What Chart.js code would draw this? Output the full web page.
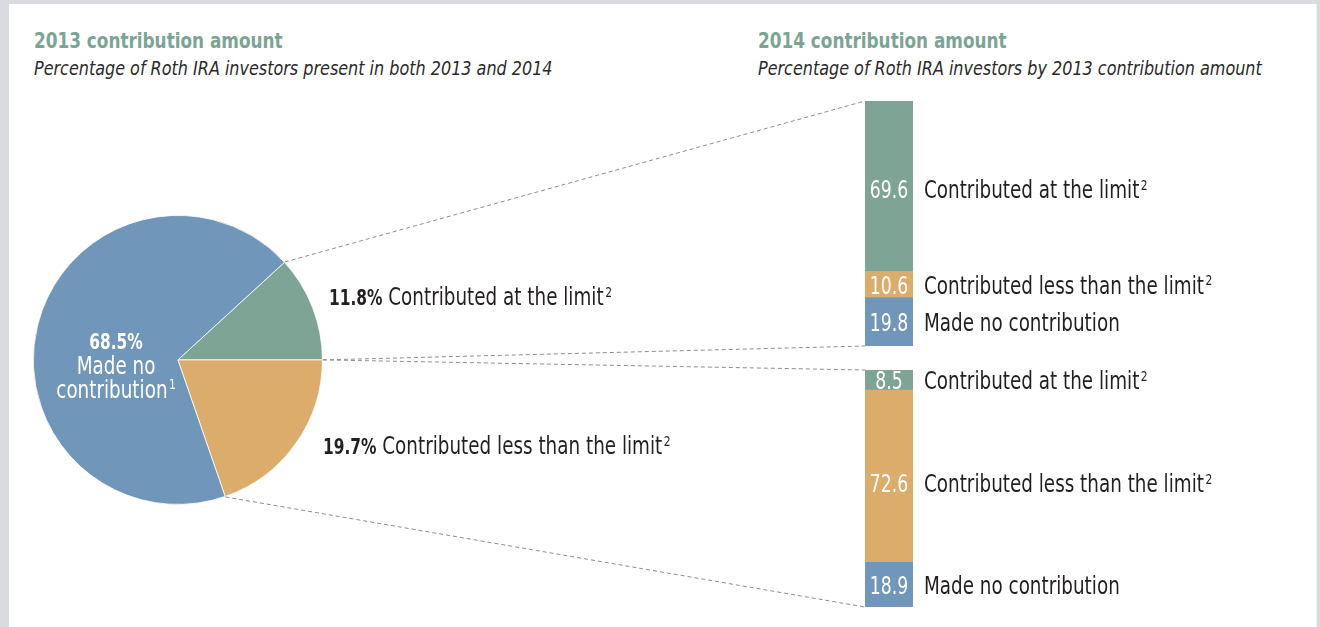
<!DOCTYPE html>
<html>
<head>
<meta charset="utf-8">
<script src="https://cdn.jsdelivr.net/npm/chart.js@4.4.1/dist/chart.umd.min.js"></script>
<style>
  html, body { margin:0; padding:0; width:1320px; height:627px; overflow:hidden; background:#d9dbe1; }
  #panel { position:absolute; left:9px; top:4px; width:1307px; height:623px; background:#ffffff; border-right:1px solid #eceef2; }
  .title { position:absolute; font-family:"DejaVu Sans Condensed","DejaVu Sans",sans-serif; font-stretch:condensed; font-weight:bold; font-size:22px; line-height:22px; color:#7ba495; white-space:nowrap; transform:scaleX(0.852); transform-origin:0 0; }
  .sub { position:absolute; font-family:"DejaVu Sans Condensed","DejaVu Sans",sans-serif; font-stretch:condensed; font-style:italic; font-size:20px; line-height:20px; color:#2a2a2a; white-space:nowrap; transform:scaleX(0.89); transform-origin:0 0; }
  canvas { position:absolute; }
</style>
</head>
<body>
<div id="panel"></div>
<div class="title" style="left:34px;top:30px;">2013 contribution amount</div>
<div class="sub" style="left:34px;top:58px;">Percentage of Roth IRA investors present in both 2013 and 2014</div>
<div class="title" style="left:758px;top:30px;">2014 contribution amount</div>
<div class="sub" style="left:758px;top:58px;">Percentage of Roth IRA investors by 2013 contribution amount</div>

<canvas id="pie" width="1320" height="627" style="left:0;top:0;"></canvas>
<canvas id="barTop" width="455" height="245" style="left:865px;top:101px;"></canvas>
<canvas id="barBottom" width="455" height="237" style="left:865px;top:370px;"></canvas>

<script>
// ---------- data ----------
const pieLabels = ['Contributed at the limit', 'Contributed less than the limit', 'Made no contribution'];
const pieValues = [11.8, 19.7, 68.5];
const pieSup = ['2', '2', '1'];

// stacked bars, listed bottom -> top
const barLabels = ['Made no contribution', 'Contributed less than the limit', 'Contributed at the limit'];
const barSup = ['', '2', '2'];
const atLimit2013Values = [19.8, 10.6, 69.6];      // 2013 contributed at the limit -> 2014
const lessThanLimit2013Values = [18.9, 72.6, 8.5]; // 2013 contributed less than the limit -> 2014

// ---------- style ----------
const FONT = '"DejaVu Sans Condensed","DejaVu Sans",sans-serif';
const SX = 0.85;          // extra horizontal condensing of label text
const C_LIMIT = '#7ea496', C_LESS = '#dcac6b', C_NONE = '#7096ba';
const TEXT = '#231f20';
const pieColors = [C_LIMIT, C_LESS, C_NONE];
const barColors = [C_NONE, C_LESS, C_LIMIT];
const BAR_W = 48;

function drawRuns(ctx, x, y, runs, align) {
  let total = 0;
  runs.forEach(r => {
    r.sx = r.sx || SX;
    ctx.font = r.font;
    r.w = ctx.measureText(r.text).width * r.sx;
    total += r.w + (r.gap || 0);
  });
  let cx = align === 'center' ? x - total / 2 : x;
  ctx.textAlign = 'left';
  ctx.textBaseline = 'alphabetic';
  runs.forEach(r => {
    cx += (r.gap || 0);
    ctx.save();
    ctx.font = r.font;
    ctx.fillStyle = r.color;
    ctx.translate(cx, y - (r.rise || 0));
    ctx.scale(r.sx, 1);
    ctx.fillText(r.text, 0, 0);
    ctx.restore();
    cx += r.w;
  });
}
function supRun(s, color) {
  return s ? [{ text: s, font: `14px ${FONT}`, color: color, rise: 8.5, gap: 1.5 }] : [];
}

function barLabelPlugin(labelDy) {
  return {
    id: 'barLabels',
    afterDatasetsDraw(chart) {
      const ctx = chart.ctx, area = chart.chartArea;
      ctx.save();
      chart.data.datasets.forEach((ds, i) => {
        const el = chart.getDatasetMeta(i).data[0];
        const mid = (el.y + el.base) / 2;
        const base = mid + 9 + labelDy[i];
        drawRuns(ctx, el.x, base, [{ text: ds.data[0].toFixed(1), font: `24px ${FONT}`, color: '#ffffff', sx: 0.8 }], 'center');
        drawRuns(ctx, area.right + 11, base,
          [{ text: ds.label, font: `24px ${FONT}`, color: TEXT }].concat(supRun(barSup[i], TEXT)));
      });
      ctx.restore();
    }
  };
}

function makeBar(id, values, labelDy) {
  const cv = document.getElementById(id);
  return new Chart(cv, {
    type: 'bar',
    data: {
      labels: ['2014'],
      datasets: values.map((v, i) => ({
        label: barLabels[i], data: [v], backgroundColor: barColors[i],
        borderWidth: 0, barPercentage: 1, categoryPercentage: 1
      }))
    },
    options: {
      responsive: false, animation: false, devicePixelRatio: 1,
      layout: { padding: { left: 0, right: cv.width - BAR_W, top: 0, bottom: 0 } },
      plugins: { legend: { display: false }, tooltip: { enabled: false } },
      scales: {
        x: { display: false, stacked: true },
        y: { display: false, stacked: true, min: 0, max: 100 }
      }
    },
    plugins: [barLabelPlugin(labelDy)]
  });
}

const barTop = makeBar('barTop', atLimit2013Values, [0, 0, 3]);
const barBottom = makeBar('barBottom', lessThanLimit2013Values, [0, 7, 0]);

function barEdges(chart) {
  const cv = chart.canvas;
  const n = chart.data.datasets.length;
  const bottomEl = chart.getDatasetMeta(0).data[0];
  const topEl = chart.getDatasetMeta(n - 1).data[0];
  const left = bottomEl.x - bottomEl.width / 2 + cv.offsetLeft;
  return { left: left, top: topEl.y + cv.offsetTop, bottom: bottomEl.base + cv.offsetTop };
}

const piePlugin = {
  id: 'pieExtras',
  afterDraw(chart) {
    const ctx = chart.ctx;
    const arcs = chart.getDatasetMeta(0).data;
    const cx = arcs[0].x, cy = arcs[0].y, R = arcs[0].outerRadius + 0.5;
    const pt = a => ({ x: cx + R * Math.cos(a), y: cy + R * Math.sin(a) });
    const p1 = pt(arcs[0].startAngle), p2 = pt(arcs[0].endAngle), p3 = pt(arcs[1].endAngle);
    const t = barEdges(barTop), b = barEdges(barBottom);

    ctx.save();
    ctx.strokeStyle = '#8e8e8e';
    ctx.lineWidth = 1;
    ctx.setLineDash([4, 3]);
    [[p1, { x: t.left, y: t.top }], [p2, { x: t.left, y: t.bottom }],
     [p2, { x: b.left, y: b.top }], [p3, { x: b.left, y: b.bottom }]].forEach(([a, z]) => {
      ctx.beginPath(); ctx.moveTo(a.x, a.y); ctx.lineTo(z.x, z.y); ctx.stroke();
    });
    ctx.setLineDash([]);

    // inner label of the big slice
    const big = arcs[2];
    const bm = (big.startAngle + big.endAngle) / 2;
    const ax = cx + 0.44 * R * Math.cos(bm), ay = cy + 0.44 * R * Math.sin(bm);
    drawRuns(ctx, ax, ay + 4.5, [{ text: pieValues[2].toFixed(1) + '%', font: `bold 22px ${FONT}`, color: '#ffffff', sx: 0.78 }], 'center');
    drawRuns(ctx, ax, ay + 29.5, [{ text: 'Made no', font: `24px ${FONT}`, color: '#ffffff' }], 'center');
    drawRuns(ctx, ax, ay + 53.5, [{ text: 'contribution', font: `24px ${FONT}`, color: '#ffffff' }].concat(supRun(pieSup[2], '#ffffff')), 'center');

    // outside labels for the two small slices
    const dx = [6, 0], dy = [-2, 10];
    [0, 1].forEach(i => {
      const m = (arcs[i].startAngle + arcs[i].endAngle) / 2;
      const y = cy + Math.sin(m) * R + dy[i];
      drawRuns(ctx, cx + R + dx[i], y,
        [{ text: pieValues[i].toFixed(1) + '%', font: `bold 22px ${FONT}`, color: TEXT, sx: 0.78 },
         { text: ' ' + pieLabels[i], font: `24px ${FONT}`, color: TEXT }].concat(supRun(pieSup[i], TEXT)));
    });
    ctx.restore();
  }
};

new Chart(document.getElementById('pie'), {
  type: 'pie',
  data: {
    labels: pieLabels,
    datasets: [{ data: pieValues, backgroundColor: pieColors, borderColor: '#ffffff', borderWidth: 0.8 }]
  },
  options: {
    responsive: false, animation: false, devicePixelRatio: 1,
    rotation: 90 - pieValues[0] * 3.6,
    layout: { padding: { left: 33, top: 215, right: 1320 - 322.8, bottom: 627 - 504.8 } },
    plugins: { legend: { display: false }, tooltip: { enabled: false } }
  },
  plugins: [piePlugin]
});
</script>
</body>
</html>
